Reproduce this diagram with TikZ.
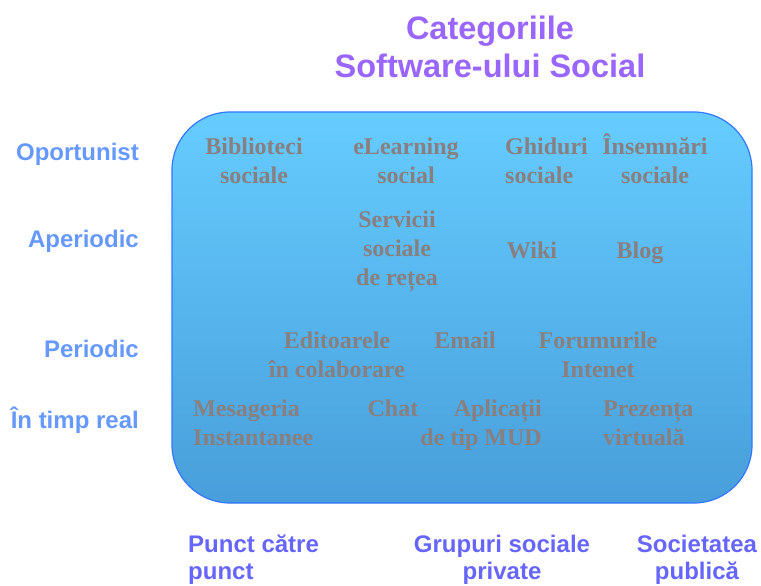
\documentclass[tikz,border=0pt]{standalone}
\usepackage{fontspec}
\setmainfont{Liberation Serif}
\newfontfamily\swsans{Liberation Sans}
\usetikzlibrary{positioning}
\definecolor{swviolet}{RGB}{153,102,255}
\definecolor{swrowblue}{RGB}{102,153,255}
\definecolor{swcolblue}{RGB}{102,102,255}
\definecolor{swtop}{RGB}{102,204,255}
\definecolor{swbottom}{RGB}{72,158,218}
\definecolor{swedge}{RGB}{51,119,255}
\definecolor{switemgray}{RGB}{136,128,128}
\tikzset{
  swtitle/.style={font=\swsans\bfseries\fontsize{32.5}{38}\selectfont, text=swviolet, align=center, inner sep=0pt},
  swrow/.style={font=\swsans\bfseries\fontsize{24}{28}\selectfont, text=swrowblue, inner sep=0pt, anchor=base east},
  swcol/.style={font=\swsans\bfseries\fontsize{24}{27}\selectfont, text=swcolblue, inner sep=0pt},
  switem/.style={font=\bfseries\fontsize{24}{29}\selectfont, text=switemgray, align=center, inner sep=0pt},
  swpanel/.style={draw=swedge, line width=1.2pt, rounded corners=58pt, top color=swtop, bottom color=swbottom,
    minimum width=580pt, minimum height=391pt, inner sep=0pt},
}

\begin{document}
\begin{tikzpicture}[x=1pt, y=-1pt]
  \useasboundingbox (0,0) rectangle (761,586);

  % Panel holding the categories.
  \node[swpanel] (panel) at (462,307.5) {};
  \node[swtitle] (title) at (490,47) {Categoriile\\Software-ului Social};

  % Time axis (rows).
  \node[swrow] (oport) at (139,160) {Oportunist};
  \node[swrow] (aper) at (139,247) {Aperiodic};
  \node[swrow] (period) at (139,357) {Periodic};
  \node[swrow] (realtime) at (139,428) {În timp real};

  % Audience axis (columns).
  \node[swcol, align=left, anchor=north west] (p2p) at (188,534.5) {Punct către\\punct};
  \node[swcol, align=center, anchor=north] (private) at (502,534.5) {Grupuri sociale\\private};
  \node[swcol, align=center, anchor=north] (public) at (697,534.5) {Societatea\\publică};

  % Opportunistic tools.
  \node[switem] (libs) at (254,161) {Biblioteci\\sociale};
  \node[switem] (elearn) at (406,161) {eLearning\\social};
  \node[switem, align=left, anchor=west] (guides) at (505,161) {Ghiduri\\sociale};
  \node[switem] (notes) at (655,159) {Însemnări\\sociale};

  % Aperiodic tools.
  \node[switem] (sns) at (397,251) {Servicii\\sociale\\de rețea};
  \node[switem] (wiki) at (532,250) {Wiki};
  \node[switem] (blog) at (640,253) {Blog};

  % Periodic tools.
  \node[switem] (coedit) at (337,355) {Editoarele\\în colaborare};
  \node[switem] (email) at (465,340) {Email};
  \node[switem] (forums) at (598,355) {Forumurile\\Intenet};

  % Real-time tools.
  \node[switem, align=left, anchor=west] (im) at (193,423) {Mesageria\\Instantanee};
  \node[switem] (chat) at (393,408) {Chat};
  \node[switem, align=right, anchor=east] (mud) at (542,425) {Aplicații\\de tip MUD};
  \node[switem, align=left, anchor=west] (presence) at (603,423) {Prezența\\virtuală};
\end{tikzpicture}
\end{document}
